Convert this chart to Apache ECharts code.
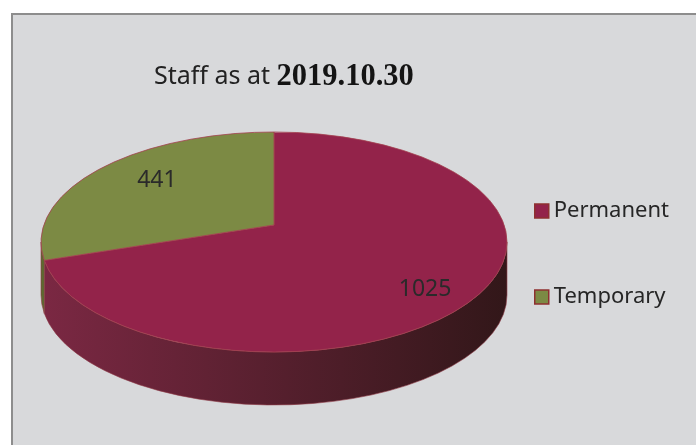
<!DOCTYPE html>
<html>
<head>
<meta charset="utf-8">
<script src="https://cdn.jsdelivr.net/npm/echarts@6/dist/echarts.min.js"></script>
<style>
  html, body { margin: 0; padding: 0; background: #ffffff; overflow: hidden; }
  #panel {
    position: absolute; left: 11px; top: 13px; width: 700px; height: 450px;
    background: #d8d9db; border-left: 2px solid #8d8d8d; border-top: 2px solid #8d8d8d;
  }
  #chart { position: absolute; left: 0; top: 0; width: 696px; height: 445px; }
</style>
</head>
<body>
<div id="panel"></div>
<div id="chart"></div>
<script>
var categories = ['Permanent', 'Temporary'];
var values = [1025, 441];

// colours of the top face and of the side (left -> right gradient)
var topColors = ['#93234a', '#7c8a44'];
var sideColors = [['#7b2843', '#321719'], ['#5d6a30', '#3a4220']];
// where the value label sits, as a fraction of the radii
var labelPos = [[0.80, 0.73], [0.62, 0.96]];

// ellipse of the top face, depth of the side, perspective shift of the centre
var CX = 274, CY = 242, RX = 233, RY = 110, DEPTH = 53, PERSP = 0.155;

var total = values.reduce(function (a, b) { return a + b; }, 0);
var acc = 0;
var slices = values.map(function (v) {
  var s = acc / total;
  acc += v;
  return [v, s, acc / total];
});

// angle on the flat circle -> angle on the drawn ellipse (perspective)
function mapAngle(t) {
  var x = Math.cos(t), y = Math.sin(t);
  var den = 1 - PERSP * y;
  var mt = Math.atan2((y - PERSP) / den, x * Math.sqrt(1 - PERSP * PERSP) / den);
  while (mt < t - Math.PI) mt += Math.PI * 2;
  while (mt > t + Math.PI) mt -= Math.PI * 2;
  return mt;
}
function pt(t, dy) {
  return [CX + RX * Math.cos(t), CY + RY * Math.sin(t) + (dy || 0)];
}
function f(p) { return p[0].toFixed(2) + ' ' + p[1].toFixed(2); }

function makeRender(i) {
  return function (params, api) {
    var v = api.value(0);
    var t1 = -Math.PI / 2 + api.value(1) * Math.PI * 2;
    var t2 = -Math.PI / 2 + api.value(2) * Math.PI * 2;
    var m1 = mapAngle(t1), m2 = mapAngle(t2);
    var children = [];

    // visible side: the front half of the ellipse (0..PI)
    var s1 = Math.max(m1, 0), s2 = Math.min(m2, Math.PI);
    if (s2 > s1) {
      var side = 'M ' + f(pt(s1)) +
        ' A ' + RX + ' ' + RY + ' 0 0 1 ' + f(pt(s2)) +
        ' L ' + f(pt(s2, DEPTH)) +
        ' A ' + RX + ' ' + RY + ' 0 0 0 ' + f(pt(s1, DEPTH)) + ' Z';
      children.push({
        type: 'path',
        z2: 1,
        shape: { pathData: side },
        style: {
          fill: new echarts.graphic.LinearGradient(CX - RX, 0, CX + RX, 0, [
            { offset: 0, color: sideColors[i][0] },
            { offset: 1, color: sideColors[i][1] }
          ], true),
          stroke: '#8e3a46',
          lineWidth: 0.6
        }
      });
    }

    var apex = [CX, CY - PERSP * RY];
    var large = (m2 - m1) > Math.PI ? 1 : 0;
    var top = 'M ' + f(apex) + ' L ' + f(pt(m1)) +
      ' A ' + RX + ' ' + RY + ' 0 ' + large + ' 1 ' + f(pt(m2)) + ' Z';
    children.push({
      type: 'path',
      z2: 10,
      shape: { pathData: top },
      style: { fill: topColors[i], stroke: '#a3404f', lineWidth: 0.8 }
    });

    var mid = (t1 + t2) / 2;
    children.push({
      type: 'text',
      z2: 20,
      style: {
        text: String(v),
        x: CX + RX * labelPos[i][0] * Math.cos(mid),
        y: CY + RY * labelPos[i][1] * Math.sin(mid),
        fill: '#2a2a2a',
        fontSize: 23,
        fontFamily: 'Noto Sans',
        align: 'center',
        verticalAlign: 'middle'
      }
    });
    return { type: 'group', children: children };
  };
}

var chart = echarts.init(document.getElementById('chart'));
var option = {
  backgroundColor: 'transparent',
  animation: false,
  title: {
    text: '{a|Staff as at }{b|2019.10.30}',
    left: 149,
    top: 55,
    textStyle: {
      rich: {
        a: { fontFamily: 'Noto Sans', fontWeight: 'normal', fontSize: 25, color: '#222222', lineHeight: 34 },
        b: { fontFamily: 'Liberation Serif', fontWeight: 'bold', fontSize: 30.5, color: '#141414', lineHeight: 34 }
      }
    }
  },
  legend: {
    data: categories,
    orient: 'vertical',
    left: 529,
    top: 195,
    itemWidth: 14,
    itemHeight: 14,
    itemGap: 64,
    icon: 'rect',
    itemStyle: { borderColor: '#8e3030', borderWidth: 1.5 },
    textStyle: { fontFamily: 'Noto Sans', fontSize: 22, color: '#262626' }
  },
  series: categories.map(function (name, i) {
    return {
      name: name,
      type: 'custom',
      coordinateSystem: 'none',
      itemStyle: { color: topColors[i] },
      renderItem: makeRender(i),
      data: [slices[i]]
    };
  })
};
chart.setOption(option);
</script>
</body>
</html>
